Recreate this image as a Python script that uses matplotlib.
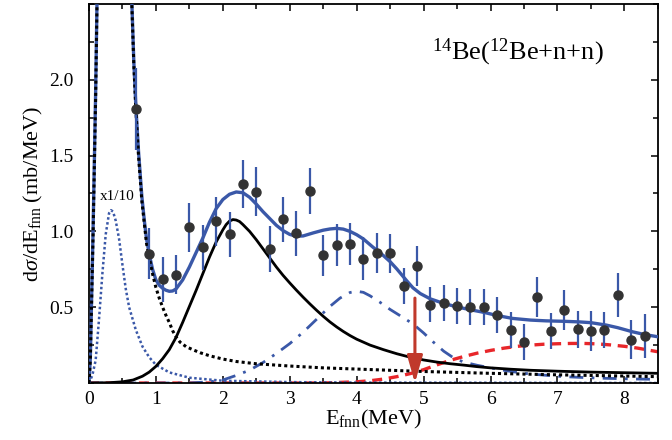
import matplotlib
matplotlib.use("Agg")
import matplotlib.pyplot as plt
from matplotlib.ticker import MultipleLocator

plt.rcParams['font.family'] = ['Liberation Serif', 'DejaVu Serif']
plt.rcParams['mathtext.fontset'] = 'custom'
plt.rcParams['mathtext.rm'] = 'Liberation Serif'
plt.rcParams['mathtext.it'] = 'Liberation Serif:italic'

# data points
data_x = [0.7, 0.9, 1.1, 1.3, 1.5, 1.7, 1.9, 2.1, 2.3, 2.5, 2.7, 2.9, 3.1, 3.3, 3.5, 3.7,
          3.9, 4.1, 4.3, 4.5, 4.7, 4.9, 5.1, 5.3, 5.5, 5.7, 5.9, 6.1, 6.3, 6.5, 6.7, 6.9,
          7.1, 7.3, 7.5, 7.7, 7.9, 8.1, 8.3]
data_y = [1.81, 0.853, 0.684, 0.715, 1.026, 0.895, 1.066, 0.98, 1.314, 1.263, 0.884, 1.08,
          0.987, 1.265, 0.844, 0.912, 0.917, 0.82, 0.857, 0.855, 0.638, 0.772, 0.515, 0.528,
          0.506, 0.502, 0.502, 0.45, 0.349, 0.27, 0.568, 0.342, 0.482, 0.353, 0.344, 0.351,
          0.583, 0.287, 0.311]
data_err = [0.27, 0.17, 0.15, 0.13, 0.16, 0.15, 0.16, 0.15, 0.16, 0.16, 0.15, 0.15,
            0.15, 0.15, 0.135, 0.14, 0.14, 0.14, 0.13, 0.13, 0.12, 0.13, 0.115, 0.12,
            0.12, 0.12, 0.12, 0.12, 0.12, 0.12, 0.13, 0.12, 0.13, 0.12, 0.13, 0.12,
            0.145, 0.13, 0.145]

# total fit (blue solid)
total_x = [0.0, 0.02, 0.04, 0.06, 0.08, 0.1, 0.12, 0.14, 0.6, 0.64, 0.67, 0.7, 0.74, 0.79,
           0.83, 0.86, 0.9, 0.95, 1.0, 1.05, 1.1, 1.15, 1.2, 1.25, 1.3, 1.4, 1.5, 1.6, 1.7,
           1.8, 1.9, 2.0, 2.1, 2.2, 2.3, 2.4, 2.5, 2.6, 2.7, 2.8, 2.9, 3.0, 3.1, 3.2, 3.35,
           3.5, 3.6, 3.7, 3.8, 3.9, 4.0, 4.1, 4.24, 4.4, 4.5, 4.6, 4.74, 4.84, 4.95, 5.1,
           5.3, 5.5, 5.7, 5.9, 6.1, 6.33, 6.6, 6.83, 7.1, 7.33, 7.5, 7.73, 7.9, 8.12, 8.3, 8.5]
total_y = [0.0, 0.16, 0.57, 0.98, 1.45, 1.93, 2.52, 3.1, 3.1, 2.52, 2.12, 1.83, 1.53, 1.23,
           1.06, 0.95, 0.85, 0.75, 0.68, 0.645, 0.625, 0.612, 0.605, 0.607, 0.62, 0.68,
           0.765, 0.86, 0.955, 1.06, 1.15, 1.21, 1.245, 1.26, 1.255, 1.225, 1.18, 1.13,
           1.085, 1.04, 1.005, 0.98, 0.968, 0.97, 0.99, 1.008, 1.016, 1.02, 1.015, 1.0,
           0.978, 0.95, 0.897, 0.84, 0.8, 0.752, 0.678, 0.628, 0.59, 0.555, 0.525, 0.502,
           0.483, 0.466, 0.445, 0.426, 0.415, 0.41, 0.407, 0.403, 0.398, 0.382, 0.365,
           0.338, 0.32, 0.305]

# low-energy resonance (black dotted)
low_x = [0.0, 0.02, 0.04, 0.06, 0.08, 0.1, 0.12, 0.14, 0.6, 0.64, 0.67, 0.7, 0.74, 0.79,
         0.86, 0.9, 0.95, 1.0, 1.05, 1.1, 1.16, 1.2, 1.25, 1.3, 1.36, 1.45, 1.55, 1.66,
         1.8, 2.0, 2.2, 2.5, 3.0, 3.5, 4.0, 4.5, 5.0, 6.0, 7.0, 8.5]
low_y = [0.0, 0.15, 0.55, 0.95, 1.42, 1.9, 2.5, 3.1, 3.1, 2.5, 2.1, 1.81, 1.5, 1.2, 0.92,
         0.83, 0.72, 0.63, 0.56, 0.5, 0.436, 0.4, 0.345, 0.305, 0.27, 0.24, 0.22, 0.2,
         0.18, 0.158, 0.142, 0.127, 0.112, 0.1, 0.092, 0.084, 0.076, 0.064, 0.054, 0.042]

# same resonance scaled x1/10 (blue dotted)
scaled_x = [0.0, 0.05, 0.1, 0.15, 0.2, 0.25, 0.3, 0.33, 0.36, 0.4, 0.45, 0.5, 0.55, 0.6,
            0.7, 0.8, 0.9, 1.0, 1.2, 1.5, 2.0, 3.0, 4.0, 8.5]
scaled_y = [0.0, 0.05, 0.15, 0.42, 0.72, 0.98, 1.12, 1.14, 1.13, 1.07, 0.95, 0.78, 0.62,
            0.5, 0.35, 0.24, 0.17, 0.12, 0.07, 0.035, 0.015, 0.006, 0.003, 0.0]

# second resonance (black solid)
res2_x = [0.0, 0.3, 0.5, 0.66, 0.8, 0.9, 1.0, 1.1, 1.2, 1.3, 1.4, 1.5, 1.6, 1.7, 1.8, 1.9,
          2.0, 2.05, 2.1, 2.15, 2.2, 2.25, 2.3, 2.4, 2.5, 2.6, 2.7, 2.8, 2.9, 3.0, 3.1,
          3.2, 3.3, 3.4, 3.5, 3.6, 3.7, 3.8, 3.9, 4.0, 4.2, 4.4, 4.6, 4.8, 5.0, 5.2, 5.4,
          5.6, 5.8, 6.0, 6.3, 6.6, 7.0, 7.5, 8.0, 8.5]
res2_y = [0.0, 0.002, 0.008, 0.02, 0.045, 0.072, 0.11, 0.16, 0.22, 0.3, 0.4, 0.505, 0.61,
          0.72, 0.83, 0.93, 1.01, 1.045, 1.068, 1.078, 1.075, 1.065, 1.045, 1.0, 0.945,
          0.885, 0.825, 0.765, 0.71, 0.66, 0.612, 0.566, 0.522, 0.48, 0.44, 0.403, 0.37,
          0.34, 0.313, 0.289, 0.25, 0.22, 0.193, 0.17, 0.152, 0.138, 0.127, 0.118, 0.108,
          0.1, 0.091, 0.084, 0.078, 0.072, 0.068, 0.064]

# third component (blue dash-dot)
res3_x = [0.0, 1.5, 1.8, 2.0, 2.2, 2.4, 2.6, 2.8, 3.0, 3.2, 3.4, 3.6, 3.75, 3.9, 4.0, 4.1,
          4.2, 4.34, 4.5, 4.7, 4.84, 5.0, 5.14, 5.3, 5.45, 5.6, 5.8, 6.0, 6.25, 6.5, 6.8,
          7.1, 7.4, 7.73, 8.1, 8.5]
res3_y = [0.0, 0.0, 0.008, 0.02, 0.05, 0.085, 0.135, 0.195, 0.26, 0.335, 0.42, 0.505,
          0.56, 0.597, 0.605, 0.598, 0.575, 0.535, 0.485, 0.43, 0.39, 0.33, 0.272, 0.21,
          0.165, 0.138, 0.117, 0.1, 0.08, 0.064, 0.052, 0.042, 0.036, 0.031, 0.027, 0.024]

# fourth component (red dashed)
res4_x = [0.0, 3.5, 4.0, 4.2, 4.4, 4.6, 4.8, 5.0, 5.2, 5.4, 5.6, 5.8, 6.0, 6.2, 6.4, 6.6,
          6.8, 7.0, 7.2, 7.4, 7.6, 7.8, 8.0, 8.2, 8.4, 8.5]
res4_y = [0.0, 0.0, 0.008, 0.015, 0.026, 0.042, 0.062, 0.088, 0.12, 0.15, 0.175, 0.197,
          0.215, 0.23, 0.242, 0.25, 0.256, 0.259, 0.261, 0.261, 0.258, 0.251, 0.242, 0.23,
          0.214, 0.206]

threshold_x = 4.87
arrow_top = 0.56

blue = '#3a58a8'
red = '#e8262a'

fig = plt.figure(figsize=(6.72, 4.40), dpi=100)
ax = fig.add_axes([0.1324, 0.1295, 0.8466, 0.8615])

ax.plot(res4_x, res4_y, color=red, lw=2.4, ls=(0, (3, 2)), zorder=2)
ax.plot(res3_x, res3_y, color=blue, lw=2.0, ls=(0, (5, 3, 1, 3)), zorder=2)
ax.plot(scaled_x, scaled_y, color=blue, lw=1.8, ls=(0, (1, 1)), zorder=2)
ax.plot(res2_x, res2_y, color='black', lw=2.0, zorder=3)
ax.plot(total_x, total_y, color=blue, lw=2.4, zorder=3)
ax.plot(low_x, low_y, color='black', lw=2.2, ls=(0, (1, 1)), zorder=4)

ax.errorbar(data_x, data_y, yerr=data_err, fmt='o', color='#333333', ms=6.5,
            ecolor=blue, elinewidth=1.6, capsize=0, zorder=5)

ax.annotate('', xy=(threshold_x, 0.0), xytext=(threshold_x, arrow_top),
            arrowprops=dict(arrowstyle='-|>,head_width=0.47,head_length=1.65',
                            color='#c0392b', lw=2.2, shrinkA=0, shrinkB=0,
                            mutation_scale=10),
            zorder=6)

ax.text(0.16, 1.21, 'x1/10', fontsize=11)
ax.text(5.12, 2.18, r'$^{14}$Be($^{12}$Be+n+n)', fontsize=19, va='center')

ax.set_xlim(0, 8.5)
ax.set_ylim(0, 2.5)
ax.xaxis.set_major_locator(MultipleLocator(1))
ax.xaxis.set_minor_locator(MultipleLocator(0.5))
ax.set_yticks([0.5, 1.0, 1.5, 2.0])
ax.set_yticklabels(['0.5', '1.0', '1.5', '2.0'])
ax.yaxis.set_minor_locator(MultipleLocator(0.25))
ax.tick_params(which='both', direction='in', top=True, right=True, labelsize=14,
               width=1.1)
ax.tick_params(axis='y', which='major', pad=11)
ax.tick_params(axis='x', which='major', pad=6)
ax.tick_params(which='major', length=5)
ax.tick_params(which='minor', length=3.5)
for s in ax.spines.values():
    s.set_linewidth(1.3)

ax.set_xlabel(r'E$_{\rm fnn}$(MeV)', fontsize=16, labelpad=0)
ax.set_ylabel(r'd$\sigma$/dE$_{\rm fnn}$ (mb/MeV)', fontsize=16, labelpad=3)

fig.savefig('out.png', dpi=100)
